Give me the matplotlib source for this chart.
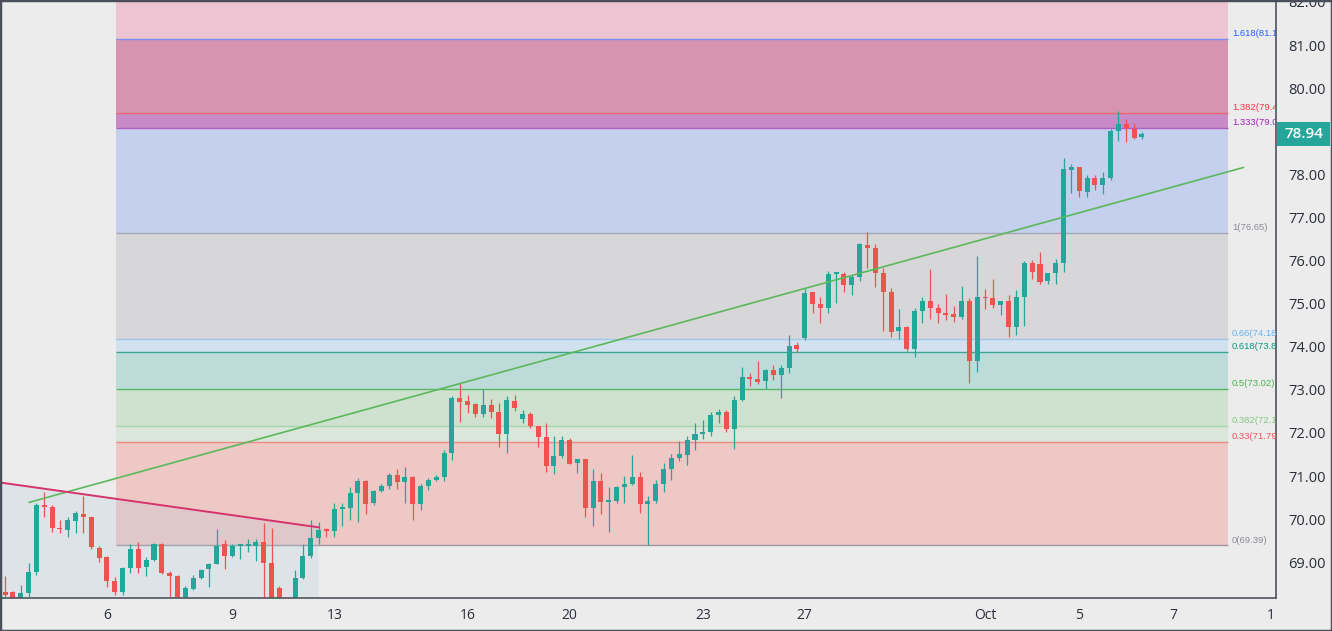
import matplotlib
matplotlib.use("Agg")
import numpy as np
import matplotlib.pyplot as plt
from matplotlib.patches import Polygon, Rectangle
from matplotlib.transforms import blended_transform_factory

# 4h candles (bar index 0..145)
opens = [68.32, 68.30, 68.10, 68.28, 68.78, 70.33, 70.27, 69.79, 69.75, 69.96,
         70.13, 70.04, 69.32, 69.11, 68.57, 68.30, 68.86, 69.31, 68.88, 69.05,
         69.42, 68.74, 68.68, 68.20, 68.38, 68.63, 68.84, 68.97, 69.42, 69.15,
         69.37, 69.37, 69.37, 69.48, 68.99, 68.40, 67.80, 68.00, 68.63, 69.15,
         69.56, 69.75, 69.73, 70.23, 70.25, 70.60, 70.89, 70.37, 70.65, 70.77,
         71.02, 70.87, 70.97, 70.35, 70.77, 70.91, 70.97, 71.53, 72.80, 72.73,
         72.67, 72.43, 72.65, 72.48, 71.97, 72.75, 72.32, 72.45, 72.15, 71.90,
         71.24, 71.47, 71.84, 71.30, 71.39, 70.25, 70.89, 70.39, 70.43, 70.75,
         70.81, 70.97, 70.35, 70.41, 70.82, 71.16, 71.41, 71.49, 71.84, 71.97,
         72.02, 72.41, 72.48, 72.09, 72.77, 73.29, 73.25, 73.20, 73.46, 73.35,
         73.50, 74.03, 74.20, 75.26, 74.99, 74.89, 75.69, 75.69, 75.43, 75.61,
         76.36, 76.28, 75.70, 75.27, 74.37, 74.45, 73.95, 74.83, 75.05, 74.89,
         74.79, 74.75, 74.69, 75.05, 73.68, 75.16, 75.12, 74.98, 75.05, 74.45,
         75.16, 75.95, 75.92, 75.53, 75.70, 75.94, 78.10, 78.16, 77.58, 77.91,
         77.75, 77.91, 79.01, 79.17, 79.05, 78.86]
highs = [68.68, 68.33, 68.47, 68.98, 70.37, 70.62, 70.33, 69.98, 70.06, 70.20,
         70.54, 70.06, 69.38, 69.15, 68.65, 68.90, 69.42, 69.48, 69.11, 69.45,
         69.44, 68.80, 68.70, 68.45, 68.70, 68.84, 68.98, 69.77, 69.51, 69.42,
         69.43, 69.55, 69.53, 69.90, 69.79, 68.45, 68.10, 68.82, 69.42, 69.98,
         69.94, 69.80, 70.37, 70.37, 70.75, 70.95, 70.90, 70.68, 70.82, 71.07,
         71.16, 71.22, 70.99, 70.82, 70.95, 71.03, 71.60, 72.86, 73.15, 72.89,
         72.69, 73.01, 72.78, 72.70, 72.85, 72.89, 72.53, 72.48, 72.17, 72.22,
         71.94, 71.94, 71.89, 71.39, 71.40, 71.16, 71.06, 70.75, 70.77, 70.99,
         71.49, 71.10, 70.54, 70.91, 71.30, 71.51, 71.82, 71.93, 72.24, 72.29,
         72.49, 72.55, 72.53, 72.85, 73.52, 73.38, 73.67, 73.48, 73.57, 73.57,
         74.27, 74.12, 75.36, 75.26, 75.15, 75.76, 75.73, 75.74, 75.66, 76.40,
         76.67, 76.38, 75.82, 75.36, 74.87, 74.49, 74.91, 75.16, 75.80, 75.00,
         75.23, 74.94, 75.41, 75.12, 76.11, 75.33, 75.57, 75.07, 75.20, 75.32,
         75.98, 76.01, 76.21, 75.72, 76.03, 78.39, 78.23, 78.17, 77.99, 77.99,
         78.06, 79.05, 79.48, 79.28, 79.20, 78.99]
lows = [68.10, 68.00, 68.00, 68.20, 68.70, 70.06, 69.70, 69.68, 69.59, 69.67,
        69.68, 69.30, 69.01, 68.42, 68.25, 68.25, 68.76, 68.76, 68.68, 69.03,
        68.72, 68.10, 68.10, 68.15, 68.36, 68.60, 68.42, 68.95, 68.84, 69.11,
        69.07, 69.24, 69.02, 68.00, 67.70, 67.60, 67.60, 67.90, 68.60, 69.10,
        69.42, 69.58, 69.59, 69.83, 69.98, 69.94, 70.12, 70.33, 70.63, 70.70,
        70.70, 70.38, 69.98, 70.21, 70.68, 70.89, 70.89, 71.38, 72.26, 72.47,
        72.38, 72.38, 72.35, 71.67, 71.53, 72.52, 72.22, 72.12, 71.67, 71.10,
        71.05, 71.42, 71.27, 71.06, 70.04, 69.83, 70.12, 69.71, 70.38, 70.38,
        70.80, 70.15, 69.40, 70.38, 70.64, 70.91, 71.36, 71.26, 71.60, 71.85,
        71.93, 72.24, 72.02, 71.62, 72.73, 73.08, 73.14, 73.02, 73.24, 72.81,
        73.40, 73.87, 74.15, 74.79, 74.56, 74.79, 75.01, 75.26, 75.21, 75.53,
        75.82, 75.39, 74.37, 74.23, 74.18, 73.90, 73.76, 74.54, 74.64, 74.56,
        74.61, 74.58, 74.64, 73.15, 73.42, 74.87, 74.89, 74.74, 74.23, 74.27,
        74.48, 75.58, 75.46, 75.46, 75.45, 75.74, 77.56, 77.47, 77.47, 77.64,
        77.55, 77.87, 78.78, 78.74, 78.81, 78.83]
closes = [68.24, 68.10, 68.28, 68.78, 70.33, 70.27, 69.79, 69.76, 69.97, 70.15,
          70.06, 69.35, 69.09, 68.57, 68.30, 68.86, 69.31, 68.86, 69.05, 69.42,
          68.74, 68.68, 68.20, 68.40, 68.63, 68.82, 68.97, 69.38, 69.15, 69.38,
          69.39, 69.41, 69.48, 68.99, 67.90, 67.80, 67.95, 68.64, 69.15, 69.56,
          69.75, 69.72, 70.23, 70.26, 70.60, 70.89, 70.35, 70.65, 70.78, 71.02,
          70.87, 70.97, 70.35, 70.77, 70.91, 70.97, 71.53, 72.81, 72.72, 72.65,
          72.43, 72.65, 72.49, 71.97, 72.77, 72.57, 72.43, 72.15, 71.90, 71.24,
          71.47, 71.84, 71.27, 71.39, 70.25, 70.89, 70.39, 70.43, 70.74, 70.81,
          70.97, 70.35, 70.41, 70.82, 71.16, 71.41, 71.51, 71.84, 71.97, 72.03,
          72.42, 72.48, 72.09, 72.77, 73.29, 73.25, 73.18, 73.46, 73.35, 73.50,
          74.02, 73.95, 75.24, 74.99, 74.89, 75.69, 75.71, 75.43, 75.61, 76.38,
          76.28, 75.70, 75.27, 74.34, 74.45, 73.95, 74.83, 75.05, 74.89, 74.78,
          74.74, 74.69, 75.05, 73.68, 75.15, 75.12, 74.98, 75.06, 74.45, 75.16,
          75.95, 75.74, 75.51, 75.70, 75.94, 78.12, 78.16, 77.62, 77.91, 77.75,
          77.91, 79.01, 79.16, 79.08, 78.85, 78.94]

x_tick_pos = [13, 29, 42, 59, 72, 89, 102, 125, 137, 149, 161.4]
x_tick_labels = ["6", "9", "13", "16", "20", "23", "27", "Oct", "5", "7", "1"]
price_ticks = list(range(69, 83))
hidden_price_ticks = [79]  # covered by the last-price marker

# fibonacci retracement
fib_ratios = ["0", "0.33", "0.382", "0.5", "0.618", "0.66", "1", "1.333", "1.382", "1.618"]
fib_prices = [69.39, 71.79, 72.16, 73.02, 73.88, 74.18, 76.65, 79.07, 79.43, 81.14]
fib_line_colors = ["#9a9a9e", "#ee8a86", "#a8d4aa", "#5cb860", "#3aa593",
                   "#9cc8ec", "#a9a9b0", "#b060c0", "#f0666c", "#7b8ff0"]
fib_text_colors = ["#8a8d96", "#f0525c", "#81c784", "#4caf50", "#089981",
                   "#64b5f6", "#8a8d96", "#9c27b0", "#f23645", "#2962ff"]
# zone fill above each level (last one runs to the top of the chart)
fib_fill_colors = ["#eec8c5", "#d9e6d9", "#cfe2cf", "#bddbd9", "#d2e1ee",
                   "#d7d7d9", "#c5d0ef", "#c78bc7", "#d694b1", "#ecc4d2"]
fib_start, fib_end, fib_label_x = 14.15, 156.0, 156.5

green_x = [3.1, 157.95]
green_y = [70.39, 78.16]
pink_x = [-0.64, 40.0]
pink_y = [70.85, 69.81]

up_color = "#26a69a"
down_color = "#ef5350"
bg = "#ececec"

fig = plt.figure(figsize=(13.32, 6.31), dpi=100, facecolor=bg)
ax = fig.add_axes([0, 33 / 631, 1276 / 1332, 598 / 631], facecolor=bg)
ax.set_xlim(-0.64, 162.1)
ax.set_ylim(68.17, 82.046)
top = ax.get_ylim()[1]

# fib zones and level lines
for i, lvl in enumerate(fib_prices):
    upper = fib_prices[i + 1] if i + 1 < len(fib_prices) else top
    ax.fill_between([fib_start, fib_end], lvl, upper, color=fib_fill_colors[i],
                    lw=0, zorder=0.5)
    ax.hlines(lvl, fib_start, fib_end, color=fib_line_colors[i], lw=1.0, zorder=1)
    ax.annotate(f"{fib_ratios[i]}({lvl:.2f})", (fib_label_x, lvl), xytext=(0, 0.6),
                textcoords="offset points", va="bottom", ha="left",
                fontsize=6.8, family="Liberation Sans", color=fib_text_colors[i],
                annotation_clip=False, clip_on=True)

# shaded area under the falling trend line
poly = Polygon([(pink_x[0], pink_y[0]), (pink_x[1], pink_y[1]),
                (pink_x[1], 60), (pink_x[0], 60)], closed=True,
               fc="#b0c4de", alpha=0.22, lw=0, zorder=1.5)
ax.add_patch(poly)

# candles
idx = np.arange(len(opens))
o = np.array(opens)
c = np.array(closes)
cols = np.where(c >= o, up_color, down_color)
ax.vlines(idx, lows, highs, colors=cols, lw=0.9, zorder=2)
body = np.maximum(np.abs(c - o), 0.045)
ax.bar(idx, body, bottom=np.minimum(o, c), width=0.64, color=cols, lw=0, zorder=2.1)

# trend lines
ax.plot(green_x, green_y, color="#5cb85c", lw=1.2, zorder=3)
ax.plot(pink_x, pink_y, color="#d6336c", lw=1.4, zorder=3)

# axes styling
ax.yaxis.tick_right()
ax.set_yticks(price_ticks)
ax.set_yticklabels(["" if p in hidden_price_ticks else f"{p:.2f}" for p in price_ticks])
ax.set_xticks(x_tick_pos)
ax.set_xticklabels(x_tick_labels)
ax.tick_params(axis="y", length=0, pad=9, labelsize=10.5, labelcolor="#2a2e39")
ax.tick_params(axis="x", length=0, pad=7, labelsize=10, labelcolor="#2a2e39")
for lab in ax.get_xticklabels() + ax.get_yticklabels():
    lab.set_family("Open Sans")
for s in ["top", "left"]:
    ax.spines[s].set_visible(False)
for s in ["right", "bottom"]:
    ax.spines[s].set_color("#50535e")
    ax.spines[s].set_linewidth(1.2)

# last price marker on the price scale
tr = blended_transform_factory(ax.transAxes, ax.transData)
half = 12 / 43.06
ax.add_patch(Rectangle((1.001, closes[-1] - half), 53 / 1276, 2 * half, transform=tr,
                       fc=up_color, ec="none", clip_on=False, zorder=5))
ax.text(1.001 + 26.5 / 1276, closes[-1], f"{closes[-1]:.2f}", transform=tr,
        ha="center", va="center", color="white", fontsize=11, fontweight="semibold",
        family="Open Sans", zorder=6, clip_on=False)

# outer frame
fig.patches.append(Rectangle((0, 0), 1, 1, transform=fig.transFigure, fill=False,
                             ec="#4b4f5b", lw=2.5))

fig.savefig("out.png", dpi=100, facecolor=bg)
